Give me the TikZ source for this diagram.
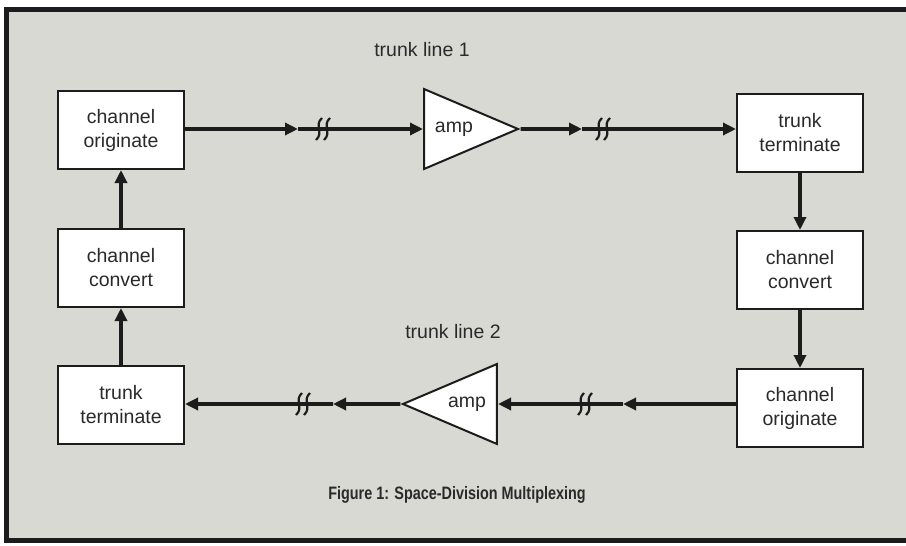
\documentclass[tikz,border=0pt]{standalone}
\usepackage{fontspec}
\setmainfont{Liberation Sans}
\newfontfamily\capfont[FakeStretch=0.8]{Liberation Sans}
\usetikzlibrary{shapes.geometric,arrows.meta}
\definecolor{figink}{HTML}{1C1C1C}
\definecolor{figtext}{HTML}{2A2A2A}
\definecolor{figpaper}{HTML}{D9D9D4}
\newcommand{\breakmark}[1]{%
  \draw[figink, line width=2.2pt] ([shift={(-1,-11)}]#1) .. controls ([shift={(-9,-4)}]#1) and ([shift={(1,4)}]#1) .. ([shift={(-7,11)}]#1);
  \draw[figink, line width=2.2pt] ([shift={(7,-11)}]#1) .. controls ([shift={(-1,-4)}]#1) and ([shift={(9,4)}]#1) .. ([shift={(1,11)}]#1);
}

\begin{document}
\begin{tikzpicture}[x=1pt, y=-1pt,
  block/.style={draw=figink, line width=2pt, fill=white, minimum width=126pt, minimum height=78pt,
    align=center, text=figtext, font=\fontsize{19.5}{24}\selectfont},
  ampbox/.style={draw=figink, line width=2pt, fill=white, shape=isosceles triangle,
    isosceles triangle stretches, minimum width=80pt, minimum height=94pt, inner sep=0pt,
    text=figtext, font=\fontsize{19.5}{24}\selectfont},
  note/.style={text=figtext, font=\fontsize{19.5}{24}\selectfont},
  flow/.style={figink, line width=3.8pt, -{Triangle[length=13pt,width=12pt]}}]

  \useasboundingbox (0,0) rectangle (906,546);
  \fill[white] (0,0) rectangle (906,546);
  \fill[figpaper] (6,9) rectangle (930,540);
  \draw[figink, line width=5pt] (930,9) -- (6,9) -- (6,540) -- (930,540);

  % left column
  \node[block] (co1) at (121,130) {channel\\originate};
  \node[block] (cc1) at (121,268) {channel\\convert};
  \node[block] (tt1) at (121,405) {trunk\\terminate};

  % right column
  \node[block] (tt2) at (800,133) {trunk\\terminate};
  \node[block] (cc2) at (800,270) {channel\\convert};
  \node[block] (co2) at (800,408) {channel\\originate};

  % amplifiers
  \node[ampbox, anchor=west] (amp1) at (423,129) {amp};
  \node[ampbox, shape border rotate=180, anchor=east] (amp2) at (498,404) {amp};

  \node[note] (line1) at (422,50) {trunk line 1};
  \node[note] (line2) at (453,332) {trunk line 2};
  \node[text=figtext, font=\capfont\fontsize{18}{22}\selectfont\bfseries] (cap) at (457,495)
    {Figure 1: Space-Division Multiplexing};

  % trunk line 1
  \coordinate (t1) at (298,129);
  \coordinate (b1) at (323,129);
  \coordinate (t2) at (582,129);
  \coordinate (b2) at (603,129);
  \draw[flow] (co1.east |- amp1.west) -- (t1);
  \draw[flow] (t1) -- (amp1.west);
  \draw[flow] (amp1.apex) -- (t2);
  \draw[flow] (t2) -- (tt2.west |- amp1.apex);
  \breakmark{b1}
  \breakmark{b2}

  % trunk line 2
  \coordinate (t3) at (623,404);
  \coordinate (b3) at (585,404);
  \coordinate (t4) at (333,404);
  \coordinate (b4) at (303,404);
  \draw[flow] (co2.west |- amp2.east) -- (t3);
  \draw[flow] (t3) -- (amp2.east);
  \draw[flow] (amp2.apex) -- (t4);
  \draw[flow] (t4) -- (tt1.east |- amp2.apex);
  \breakmark{b3}
  \breakmark{b4}

  % channel links
  \draw[flow] (tt2.south) -- (cc2.north);
  \draw[flow] (cc2.south) -- (co2.north);
  \draw[flow] (tt1.north) -- (cc1.south);
  \draw[flow] (cc1.north) -- (co1.south);

\end{tikzpicture}
\end{document}
